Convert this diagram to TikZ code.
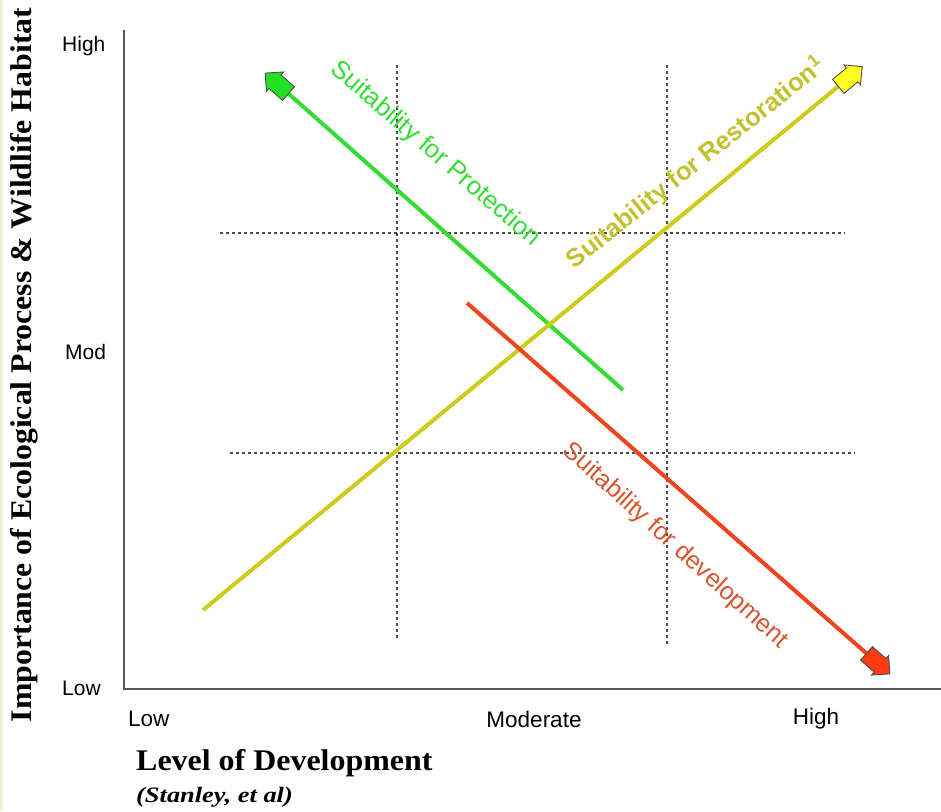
\documentclass[tikz,border=0pt]{standalone}
\usepackage{fontspec}
\setmainfont{Liberation Serif}
\setsansfont{Liberation Sans}
\begin{document}
\begin{tikzpicture}[x=1pt,y=-1pt,
  axisline/.style={draw=black!65, line width=1.3pt},
  gridline/.style={draw=black!70, line width=1.1pt, dash pattern=on 3pt off 3pt},
  ticklabel/.style={font=\sffamily\fontsize{21}{21}\selectfont, inner sep=0pt},
  xticklabel/.style={font=\sffamily\fontsize{22.5}{22.5}\selectfont, inner sep=0pt},
  trend/.style={line width=4pt},
  headshape/.style={draw=black!70, line width=0.9pt, line join=miter}
]
\newcommand\blockhead[3]{% position, angle, fill
  \begin{scope}[shift={(#1)}, rotate=#2]
    \filldraw[headshape, fill=#3] (-10,-9) -- (8,-9) -- (8,-13) -- (21,0) -- (8,13) -- (8,9) -- (-10,9) -- cycle;
  \end{scope}}
\definecolor{protgreen}{HTML}{33DD33}
\definecolor{protfill}{HTML}{22E022}
\definecolor{restline}{HTML}{CCCC1A}
\definecolor{resttext}{HTML}{C2C230}
\definecolor{restfill}{HTML}{FFFF22}
\definecolor{devline}{HTML}{EE4420}
\definecolor{devtext}{HTML}{D85530}
\definecolor{devfill}{HTML}{FF3A10}
\definecolor{edge}{HTML}{F3F0DC}

\useasboundingbox (0,0) rectangle (941,811);
\fill[white] (0,0) rectangle (941,811);
\fill[edge] (0,0) rectangle (3,811);

% axes
\coordinate (ytop) at (124,30);
\coordinate (origin) at (124,689);
\coordinate (xend) at (941,689);
\draw[axisline] (ytop) -- (origin) -- (xend);

% grid (dashed)
\coordinate (v1a) at (397,65);  \coordinate (v1b) at (397,638);
\coordinate (v2a) at (667,65);  \coordinate (v2b) at (667,645);
\coordinate (h1a) at (220,233); \coordinate (h1b) at (845,233);
\coordinate (h2a) at (230,453); \coordinate (h2b) at (855,453);
\draw[gridline] (v1a) -- (v1b);
\draw[gridline] (v2a) -- (v2b);
\draw[gridline] (h1a) -- (h1b);
\draw[gridline] (h2a) -- (h2b);

% tick labels
\node[ticklabel, anchor=west] (yhigh) at (62,46) {High};
\node[ticklabel, anchor=west] (ymod) at (65,352) {Mod};
\node[ticklabel, anchor=west] (ylow) at (62,688) {Low};
\node[xticklabel, anchor=west] (xlow) at (128,719) {Low};
\node[xticklabel] (xmod) at (534,719) {Moderate};
\node[xticklabel] (xhigh) at (816,719) {High};

% axis titles
\node[rotate=90, inner sep=0pt, font=\bfseries\fontsize{30}{30}\selectfont] (ytitle) at (24,365)
  {\scalebox{1.06}[1]{Importance of Ecological Process \& Wildlife Habitat}};
\node[anchor=west, inner sep=0pt, font=\bfseries\fontsize{30}{30}\selectfont] (xtitle) at (136,763)
  {\scalebox{1.065}[1]{Level of Development}};
\node[anchor=west, inner sep=0pt, font=\bfseries\itshape\fontsize{22}{22}\selectfont] (cite) at (136,797)
  {\scalebox{1.2}[1]{(Stanley, et al)}};

% trend lines
\coordinate (gstart) at (623,390);
\coordinate (gend) at (281,87);
\coordinate (ystart) at (203,610);
\coordinate (yend) at (846,80);
\coordinate (rstart) at (467,303);
\coordinate (rend) at (874,660);

\draw[trend, protgreen] (gstart) -- (gend);
\draw[trend, restline] (ystart) -- (yend);
\draw[trend, devline] (rstart) -- (rend);

\blockhead{gend}{138.5}{protfill}
\blockhead{yend}{39.5}{restfill}
\blockhead{rend}{-41.3}{devfill}

% labels
\node[rotate=-41, text=protgreen, font=\sffamily\fontsize{25.5}{25.5}\selectfont, inner sep=0pt] (lprot) at (435,154)
  {Suitability for Protection};
\node[rotate=38.5, text=resttext, font=\sffamily\bfseries\fontsize{25.5}{25.5}\selectfont, inner sep=0pt] (lrest) at (696,163)
  {Suitability for Restoration\textsuperscript{1}};
\node[rotate=-42, text=devtext, font=\sffamily\fontsize{25}{25}\selectfont, inner sep=0pt] (ldev) at (675,546)
  {Suitability for development};
\end{tikzpicture}
\end{document}
